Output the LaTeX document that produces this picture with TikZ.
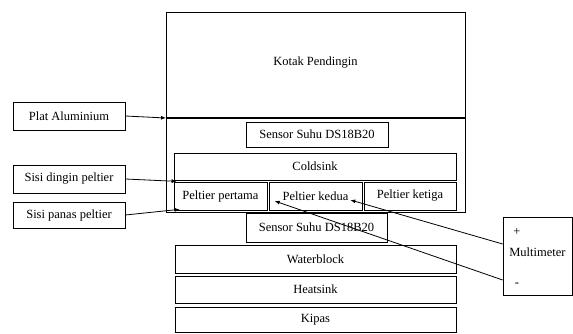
\documentclass[tikz,border=0pt]{standalone}
\usepackage{fontspec}
\setmainfont{Liberation Serif}
\usetikzlibrary{arrows.meta,calc}
\tikzset{
  box/.style={draw, line width=0.7pt, inner sep=0pt, minimum height=#1},
  box/.default=28,
  pointer/.style={line width=0.8pt, -{Latex[length=5pt,width=4pt]}}
}
\begin{document}
\begin{tikzpicture}[x=1pt,y=-1pt,font=\fontsize{12.5}{14}\selectfont]
\useasboundingbox (0,0) rectangle (573,333);
\node[box=200, minimum width=299] (kotak) at (315.5,112) {};
\node (kotaklbl) at (315.5,63) {Kotak Pendingin};
\coordinate (platL) at (166,118);
\coordinate (platR) at (465,118);
\draw[line width=1.6pt] (platL) -- (platR);
\node[box=25, minimum width=142] (sensoratas) at (317,134.5) {Sensor Suhu DS18B20};
\node[box=27, minimum width=282] (coldsink) at (315,166.5) {Coldsink};
\node[box, minimum width=93] (peltier1) at (220.5,196) {Peltier pertama};
\node[box, minimum width=93] (peltier2) at (315.5,196) {Peltier kedua};
\node[box, minimum width=92] (peltier3) at (410,196) {Peltier ketiga};
\node[box=29, minimum width=141] (sensorbawah) at (316.5,227.5) {Sensor Suhu DS18B20};
\node[box, minimum width=281] (waterblock) at (315.5,259) {Waterblock};
\node[box=27, minimum width=281] (heatsink) at (315.5,289.5) {Heatsink};
\node[box=25, minimum width=281] (kipas) at (315.5,319.5) {Kipas};
\node[box, minimum width=112] (plat) at (69,116) {Plat Aluminium};
\node[box, minimum width=112] (dingin) at (69,179) {Sisi dingin peltier};
\node[box=26, minimum width=112] (panas) at (69,215) {Sisi panas peltier};
\node[box=78, minimum width=69] (multi) at (537.5,256) {};
\node (multilbl) at (537.5,252) {Multimeter};
\node (plus) at (517,232) {+};
\node (minus) at (517,285) {-};
\draw[pointer] (plat.east) -- (platL);
\draw[pointer] (dingin.east) -- ($(coldsink.south west)+(3,1)$);
\draw[pointer] (panas.east) -- ($(peltier1.south west)+(6,-1)$);
\draw[pointer] ($(multi.west)+(0,-12)$) -- ($(peltier2.east)+(-12,4)$);
\draw[pointer] ($(multi.west)+(0,24)$) -- ($(peltier2.west)+(6,5)$);
\end{tikzpicture}
\end{document}
